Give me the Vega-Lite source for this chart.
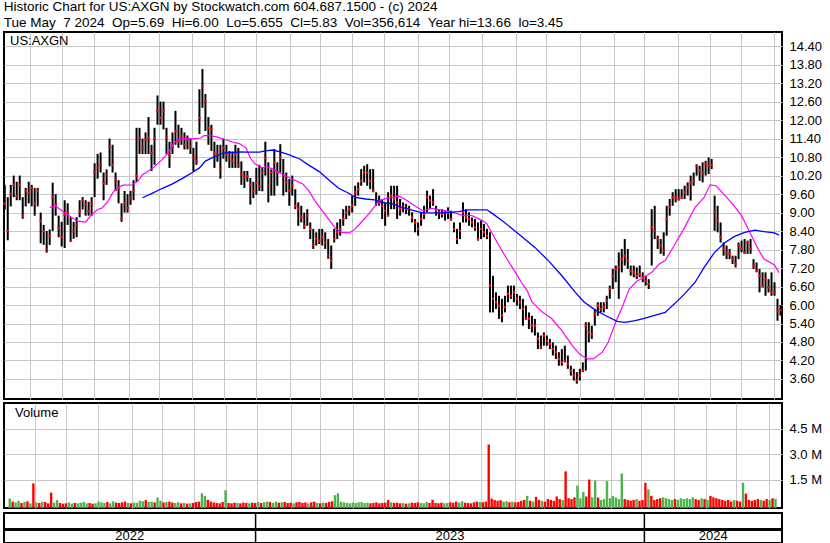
{
"$schema": "https://vega.github.io/schema/vega-lite/v6.json",
"padding": {"left": 1, "top": 0, "right": 0, "bottom": 0},
"background": "white",
"spacing": 2,
"title": {"text": "Historic Chart for US:AXGN by Stockwatch.com 604.687.1500 - (c) 2024", "subtitle": "Tue May \u00a07 2024 \u00a0Op=5.69 \u00a0Hi=6.00 \u00a0Lo=5.655 \u00a0Cl=5.83 \u00a0Vol=356,614 \u00a0Year hi=13.66 \u00a0lo=3.45", "anchor": "start", "font": "Liberation Sans", "fontSize": 13.5, "fontWeight": "normal", "color": "black", "subtitleFont": "Liberation Sans", "subtitleFontSize": 13.5, "subtitleColor": "black", "subtitlePadding": 2, "offset": 2, "dx": 2},
"datasets": {
"px": [
{"d":0,"h":9.9,"l":9.1,"c":9.29,"v":0.38},{"d":2,"h":9.5,"l":8.1,"c":8.4,"v":0.2},{"d":4,"h":9.9,"l":9.2,"c":9.6,"v":0.15},{"d":6,"h":10.2,"l":9.5,"c":9.9,"v":0.25},{"d":8,"h":10.0,"l":9.4,"c":9.53,"v":0.12},{"d":10,"h":10.2,"l":9.4,"c":9.9,"v":0.18},{"d":12,"h":9.5,"l":8.8,"c":8.9,"v":0.22},{"d":14,"h":9.8,"l":9.2,"c":9.7,"v":0.1},{"d":16,"h":10.0,"l":9.3,"c":9.64,"v":1.27},{"d":18,"h":9.9,"l":9.2,"c":9.8,"v":0.15},
{"d":20,"h":9.8,"l":8.9,"c":9.3,"v":0.12},{"d":22,"h":9.8,"l":9.2,"c":9.7,"v":0.2},{"d":24,"h":9.0,"l":8.0,"c":8.74,"v":0.18},{"d":26,"h":8.6,"l":7.95,"c":8.4,"v":0.1},{"d":28,"h":8.4,"l":7.7,"c":7.8,"v":0.73},{"d":30,"h":8.45,"l":7.95,"c":8.25,"v":0.14},{"d":32,"h":9.97,"l":8.4,"c":9.5,"v":0.29},{"d":34,"h":9.6,"l":8.9,"c":9.26,"v":0.12},{"d":36,"h":8.9,"l":8.2,"c":8.5,"v":0.08},{"d":38,"h":8.7,"l":7.9,"c":8.2,"v":0.1},
{"d":40,"h":9.4,"l":7.85,"c":8.93,"v":0.15},{"d":42,"h":9.3,"l":8.6,"c":9.0,"v":0.08},{"d":44,"h":8.85,"l":8.05,"c":8.1,"v":0.12},{"d":46,"h":8.7,"l":8.15,"c":8.4,"v":0.1},{"d":48,"h":8.85,"l":8.2,"c":8.6,"v":0.14},{"d":50,"h":9.4,"l":8.85,"c":9.05,"v":0.18},{"d":52,"h":9.5,"l":9.1,"c":9.4,"v":0.1},{"d":54,"h":9.4,"l":8.9,"c":9.26,"v":0.12},{"d":56,"h":9.35,"l":8.9,"c":9.05,"v":0.08},{"d":58,"h":9.5,"l":8.9,"c":9.3,"v":0.1},
{"d":60,"h":10.6,"l":9.5,"c":10.3,"v":0.2},{"d":62,"h":10.9,"l":10.1,"c":10.45,"v":0.16},{"d":64,"h":10.95,"l":10.3,"c":10.55,"v":0.12},{"d":66,"h":10.3,"l":9.4,"c":9.96,"v":0.18},{"d":68,"h":10.4,"l":9.9,"c":10.2,"v":0.1},{"d":70,"h":11.4,"l":10.5,"c":11.15,"v":0.22},{"d":72,"h":11.2,"l":10.3,"c":10.55,"v":0.14},{"d":74,"h":10.3,"l":9.7,"c":10.07,"v":0.12},{"d":76,"h":10.05,"l":9.3,"c":9.8,"v":0.16},{"d":78,"h":9.3,"l":8.7,"c":8.8,"v":0.2},
{"d":80,"h":9.7,"l":9.0,"c":9.3,"v":0.12},{"d":82,"h":9.6,"l":9.0,"c":9.15,"v":0.1},{"d":84,"h":9.7,"l":9.25,"c":9.47,"v":0.14},{"d":86,"h":10.05,"l":9.4,"c":9.7,"v":0.12},{"d":88,"h":11.75,"l":10.0,"c":10.2,"v":0.25},{"d":90,"h":11.75,"l":10.9,"c":11.42,"v":0.22},{"d":92,"h":11.4,"l":10.9,"c":11.1,"v":0.29},{"d":94,"h":11.6,"l":10.9,"c":11.37,"v":0.18},{"d":96,"h":12.1,"l":10.9,"c":11.42,"v":0.2},{"d":98,"h":11.2,"l":10.35,"c":10.93,"v":0.15},
{"d":100,"h":11.75,"l":10.55,"c":11.4,"v":0.44},{"d":102,"h":12.8,"l":11.85,"c":12.29,"v":0.25},{"d":104,"h":12.6,"l":11.85,"c":12.07,"v":0.15},{"d":106,"h":12.6,"l":11.7,"c":12.29,"v":0.18},{"d":108,"h":11.75,"l":10.9,"c":11.42,"v":0.2},{"d":110,"h":11.3,"l":10.45,"c":10.88,"v":0.15},{"d":112,"h":11.6,"l":10.9,"c":11.15,"v":0.12},{"d":114,"h":12.3,"l":11.2,"c":11.64,"v":0.16},{"d":116,"h":11.85,"l":11.1,"c":11.31,"v":0.1},{"d":118,"h":11.75,"l":11.2,"c":11.48,"v":0.12},
{"d":120,"h":11.6,"l":11.05,"c":11.2,"v":0.08},{"d":122,"h":11.5,"l":11.05,"c":11.37,"v":0.1},{"d":124,"h":11.42,"l":10.9,"c":11.15,"v":0.12},{"d":126,"h":11.1,"l":10.35,"c":10.77,"v":0.18},{"d":128,"h":11.3,"l":10.55,"c":10.66,"v":0.2},{"d":130,"h":13.0,"l":11.55,"c":12.07,"v":0.69},{"d":132,"h":13.66,"l":12.4,"c":13.1,"v":0.54},{"d":134,"h":12.85,"l":11.65,"c":12.6,"v":0.3},{"d":136,"h":12.1,"l":11.2,"c":11.75,"v":0.2},{"d":138,"h":11.85,"l":11.0,"c":11.7,"v":0.15},
{"d":140,"h":11.3,"l":10.45,"c":10.93,"v":0.12},{"d":142,"h":11.2,"l":10.65,"c":10.88,"v":0.1},{"d":144,"h":11.2,"l":10.1,"c":10.4,"v":0.18},{"d":146,"h":11.4,"l":10.75,"c":11.1,"v":0.87},{"d":148,"h":11.2,"l":10.65,"c":10.88,"v":0.12},{"d":150,"h":11.0,"l":10.45,"c":10.77,"v":0.1},{"d":152,"h":10.98,"l":10.45,"c":10.66,"v":0.14},{"d":154,"h":11.2,"l":10.45,"c":10.88,"v":0.12},{"d":156,"h":11.1,"l":10.45,"c":10.55,"v":0.1},{"d":158,"h":10.66,"l":9.9,"c":10.23,"v":0.15},
{"d":160,"h":10.35,"l":9.8,"c":10.18,"v":0.12},{"d":162,"h":10.35,"l":10.0,"c":10.18,"v":0.1},{"d":164,"h":10.12,"l":9.26,"c":9.91,"v":0.14},{"d":166,"h":10.0,"l":9.47,"c":9.69,"v":0.12},{"d":168,"h":10.45,"l":9.58,"c":9.96,"v":0.18},{"d":170,"h":10.55,"l":9.7,"c":9.85,"v":0.12},{"d":172,"h":10.45,"l":9.69,"c":10.3,"v":0.16},{"d":174,"h":11.3,"l":10.2,"c":10.77,"v":0.2},{"d":176,"h":10.63,"l":9.33,"c":9.87,"v":0.18},{"d":178,"h":10.4,"l":9.55,"c":10.3,"v":0.12},
{"d":180,"h":11.06,"l":9.55,"c":10.63,"v":0.2},{"d":182,"h":10.63,"l":9.87,"c":10.3,"v":0.14},{"d":184,"h":11.22,"l":10.3,"c":10.79,"v":0.16},{"d":186,"h":10.74,"l":9.55,"c":10.2,"v":0.18},{"d":188,"h":10.3,"l":9.66,"c":9.98,"v":0.12},{"d":190,"h":10.09,"l":9.22,"c":9.71,"v":0.14},{"d":192,"h":10.2,"l":9.55,"c":9.87,"v":0.1},{"d":194,"h":9.76,"l":9.11,"c":9.22,"v":0.16},{"d":196,"h":9.33,"l":8.57,"c":9.11,"v":0.18},{"d":198,"h":9.22,"l":8.68,"c":8.85,"v":0.12},
{"d":200,"h":9.0,"l":8.47,"c":8.57,"v":0.15},{"d":202,"h":9.11,"l":8.57,"c":8.9,"v":0.1},{"d":204,"h":8.68,"l":8.14,"c":8.47,"v":0.16},{"d":206,"h":8.47,"l":7.82,"c":7.93,"v":0.2},{"d":208,"h":8.36,"l":7.93,"c":8.14,"v":0.12},{"d":210,"h":8.47,"l":7.98,"c":8.09,"v":0.1},{"d":212,"h":8.47,"l":7.93,"c":8.2,"v":0.14},{"d":214,"h":8.36,"l":7.82,"c":8.03,"v":0.12},{"d":216,"h":8.14,"l":7.5,"c":7.6,"v":0.18},{"d":218,"h":7.93,"l":7.17,"c":7.44,"v":0.22},
{"d":220,"h":8.47,"l":8.03,"c":8.14,"v":0.58},{"d":222,"h":8.68,"l":8.14,"c":8.36,"v":0.69},{"d":224,"h":8.79,"l":8.25,"c":8.47,"v":0.2},{"d":226,"h":9.11,"l":8.57,"c":8.79,"v":0.16},{"d":228,"h":9.22,"l":8.79,"c":9.0,"v":0.12},{"d":230,"h":9.22,"l":8.9,"c":9.11,"v":0.1},{"d":232,"h":9.55,"l":9.0,"c":9.22,"v":0.14},{"d":234,"h":9.87,"l":9.22,"c":9.66,"v":0.12},{"d":236,"h":9.98,"l":9.55,"c":9.76,"v":0.16},{"d":238,"h":10.41,"l":9.87,"c":10.03,"v":0.18},
{"d":240,"h":10.52,"l":9.98,"c":10.3,"v":0.12},{"d":242,"h":10.57,"l":9.87,"c":10.3,"v":0.14},{"d":244,"h":10.41,"l":9.76,"c":10.03,"v":0.1},{"d":246,"h":10.41,"l":9.66,"c":9.71,"v":0.12},{"d":248,"h":9.66,"l":9.22,"c":9.39,"v":0.16},{"d":250,"h":9.55,"l":9.22,"c":9.33,"v":0.1},{"d":252,"h":9.44,"l":8.79,"c":9.22,"v":0.12},{"d":254,"h":9.33,"l":8.57,"c":9.06,"v":0.14},{"d":256,"h":9.66,"l":8.9,"c":8.9,"v":0.29},{"d":258,"h":9.87,"l":9.11,"c":9.55,"v":0.16},
{"d":260,"h":9.87,"l":9.11,"c":9.44,"v":0.12},{"d":262,"h":9.87,"l":8.79,"c":9.33,"v":0.14},{"d":264,"h":9.44,"l":8.9,"c":9.11,"v":0.1},{"d":266,"h":9.33,"l":9.01,"c":9.17,"v":0.12},{"d":268,"h":9.28,"l":8.95,"c":9.11,"v":0.08},{"d":270,"h":9.22,"l":8.9,"c":9.11,"v":0.1},{"d":272,"h":9.01,"l":8.68,"c":8.84,"v":0.14},{"d":274,"h":8.79,"l":8.36,"c":8.68,"v":0.12},{"d":276,"h":8.68,"l":8.25,"c":8.47,"v":0.16},{"d":278,"h":9.01,"l":8.57,"c":8.79,"v":0.12},
{"d":280,"h":9.22,"l":8.79,"c":8.95,"v":0.1},{"d":282,"h":9.71,"l":9.01,"c":9.49,"v":0.18},{"d":284,"h":9.55,"l":9.11,"c":9.39,"v":0.12},{"d":286,"h":9.76,"l":9.22,"c":9.33,"v":0.31},{"d":288,"h":9.22,"l":8.9,"c":9.06,"v":0.12},{"d":290,"h":9.11,"l":8.79,"c":9.01,"v":0.1},{"d":292,"h":9.11,"l":8.84,"c":8.95,"v":0.14},{"d":294,"h":9.06,"l":8.74,"c":9.01,"v":0.1},{"d":296,"h":9.17,"l":8.79,"c":9.01,"v":0.12},{"d":298,"h":9.06,"l":8.74,"c":8.79,"v":0.16},
{"d":300,"h":8.68,"l":8.36,"c":8.47,"v":0.14},{"d":302,"h":8.47,"l":7.98,"c":8.14,"v":0.2},{"d":304,"h":8.68,"l":8.14,"c":8.41,"v":0.14},{"d":306,"h":9.33,"l":8.68,"c":9.01,"v":0.22},{"d":308,"h":9.11,"l":8.68,"c":8.84,"v":0.14},{"d":310,"h":9.01,"l":8.57,"c":8.79,"v":0.12},{"d":312,"h":8.84,"l":8.52,"c":8.68,"v":0.1},{"d":314,"h":8.79,"l":8.41,"c":8.52,"v":0.16},{"d":316,"h":8.68,"l":8.09,"c":8.14,"v":0.2},{"d":318,"h":8.74,"l":8.14,"c":8.47,"v":0.18},
{"d":320,"h":8.63,"l":8.2,"c":8.36,"v":0.16},{"d":322,"h":8.47,"l":8.14,"c":8.25,"v":0.2},{"d":324,"h":8.36,"l":5.76,"c":6.63,"v":3.56},{"d":326,"h":6.95,"l":5.76,"c":6.2,"v":0.38},{"d":328,"h":6.41,"l":5.87,"c":6.09,"v":0.3},{"d":330,"h":6.3,"l":5.55,"c":5.98,"v":0.25},{"d":332,"h":6.2,"l":5.44,"c":5.66,"v":0.28},{"d":334,"h":6.3,"l":5.76,"c":5.93,"v":0.2},{"d":336,"h":6.63,"l":6.09,"c":6.36,"v":0.22},{"d":338,"h":6.63,"l":6.2,"c":6.3,"v":0.16},
{"d":340,"h":6.63,"l":6.09,"c":6.41,"v":0.2},{"d":342,"h":6.36,"l":5.98,"c":6.2,"v":0.15},{"d":344,"h":6.3,"l":5.87,"c":6.09,"v":0.18},{"d":346,"h":6.2,"l":5.33,"c":5.87,"v":0.25},{"d":348,"h":5.98,"l":5.55,"c":5.55,"v":0.3},{"d":350,"h":5.76,"l":5.22,"c":5.55,"v":0.54},{"d":352,"h":5.65,"l":5.11,"c":5.33,"v":0.25},{"d":354,"h":5.55,"l":5.01,"c":5.33,"v":0.2},{"d":356,"h":5.11,"l":4.57,"c":4.9,"v":0.48},{"d":358,"h":5.01,"l":4.57,"c":4.63,"v":0.3},
{"d":360,"h":5.11,"l":4.68,"c":5.01,"v":0.25},{"d":362,"h":5.01,"l":4.68,"c":4.84,"v":0.2},{"d":364,"h":4.9,"l":4.57,"c":4.74,"v":0.35},{"d":366,"h":4.79,"l":4.36,"c":4.57,"v":0.3},{"d":368,"h":4.68,"l":4.25,"c":4.47,"v":0.25},{"d":370,"h":4.47,"l":4.03,"c":4.25,"v":0.5},{"d":372,"h":4.57,"l":4.03,"c":4.14,"v":0.35},{"d":374,"h":4.68,"l":4.14,"c":4.2,"v":0.3},{"d":376,"h":4.36,"l":3.93,"c":4.09,"v":1.98},{"d":378,"h":4.03,"l":3.71,"c":3.87,"v":0.4},
{"d":380,"h":3.93,"l":3.55,"c":3.71,"v":0.35},{"d":382,"h":3.82,"l":3.45,"c":3.55,"v":0.45},{"d":384,"h":3.93,"l":3.55,"c":3.71,"v":1.15},{"d":386,"h":4.14,"l":3.82,"c":3.87,"v":0.4},{"d":388,"h":5.44,"l":3.87,"c":5.33,"v":0.77},{"d":390,"h":5.44,"l":4.79,"c":5.11,"v":0.5},{"d":392,"h":5.33,"l":4.9,"c":5.06,"v":1.5},{"d":394,"h":5.87,"l":5.33,"c":5.71,"v":0.45},{"d":396,"h":6.09,"l":5.65,"c":5.98,"v":1.44},{"d":398,"h":6.09,"l":5.76,"c":5.87,"v":0.44},
{"d":400,"h":6.09,"l":5.76,"c":5.93,"v":0.3},{"d":402,"h":6.3,"l":5.87,"c":6.14,"v":0.35},{"d":404,"h":6.63,"l":6.2,"c":6.52,"v":1.4},{"d":406,"h":7.17,"l":6.52,"c":6.95,"v":0.4},{"d":408,"h":7.28,"l":6.74,"c":7.17,"v":0.54},{"d":410,"h":7.71,"l":6.2,"c":7.22,"v":0.45},{"d":412,"h":7.82,"l":7.06,"c":7.49,"v":0.35},{"d":414,"h":8.14,"l":7.28,"c":7.6,"v":1.85},{"d":416,"h":7.82,"l":7.17,"c":7.44,"v":0.35},{"d":418,"h":7.28,"l":6.95,"c":7.11,"v":0.3},
{"d":420,"h":7.28,"l":6.9,"c":7.06,"v":0.25},{"d":422,"h":7.22,"l":6.84,"c":6.95,"v":0.3},{"d":424,"h":7.28,"l":6.9,"c":7.0,"v":0.35},{"d":426,"h":7.06,"l":6.74,"c":6.9,"v":0.25},{"d":428,"h":6.95,"l":6.63,"c":6.79,"v":0.3},{"d":430,"h":6.84,"l":6.52,"c":6.68,"v":1.31},{"d":432,"h":9.11,"l":7.28,"c":8.52,"v":0.92},{"d":434,"h":9.22,"l":8.14,"c":8.41,"v":0.54},{"d":436,"h":8.25,"l":7.82,"c":8.14,"v":0.3},{"d":438,"h":8.14,"l":7.66,"c":7.93,"v":0.35},
{"d":440,"h":8.36,"l":7.6,"c":7.76,"v":0.4},{"d":442,"h":9.22,"l":8.25,"c":8.79,"v":0.45},{"d":444,"h":9.44,"l":8.9,"c":9.17,"v":0.4},{"d":446,"h":9.66,"l":9.22,"c":9.49,"v":0.35},{"d":448,"h":9.76,"l":9.33,"c":9.49,"v":0.3},{"d":450,"h":9.76,"l":9.39,"c":9.44,"v":0.35},{"d":452,"h":9.76,"l":9.44,"c":9.49,"v":0.3},{"d":454,"h":9.87,"l":9.44,"c":9.66,"v":0.4},{"d":456,"h":9.98,"l":9.55,"c":9.82,"v":0.35},{"d":458,"h":10.2,"l":9.39,"c":9.98,"v":0.4},
{"d":460,"h":10.3,"l":9.87,"c":10.03,"v":0.35},{"d":462,"h":10.57,"l":10.2,"c":10.52,"v":0.45},{"d":464,"h":10.52,"l":10.03,"c":10.36,"v":0.35},{"d":466,"h":10.63,"l":9.98,"c":10.3,"v":0.3},{"d":468,"h":10.68,"l":10.2,"c":10.57,"v":0.4},{"d":470,"h":10.79,"l":10.25,"c":10.52,"v":0.35},{"d":472,"h":10.74,"l":10.41,"c":10.54,"v":0.3},{"d":474,"h":9.55,"l":8.41,"c":9.01,"v":0.54},{"d":476,"h":9.22,"l":8.36,"c":8.74,"v":0.45},{"d":478,"h":8.68,"l":8.03,"c":8.2,"v":0.4},
{"d":480,"h":8.03,"l":7.6,"c":7.82,"v":0.35},{"d":482,"h":7.93,"l":7.49,"c":7.71,"v":0.3},{"d":484,"h":7.82,"l":7.49,"c":7.66,"v":0.25},{"d":486,"h":7.6,"l":7.33,"c":7.49,"v":0.3},{"d":488,"h":7.6,"l":7.22,"c":7.33,"v":0.2},{"d":490,"h":8.03,"l":7.49,"c":7.93,"v":0.3},{"d":492,"h":8.09,"l":7.71,"c":7.82,"v":0.25},{"d":494,"h":8.14,"l":7.66,"c":7.71,"v":0.2},{"d":496,"h":8.09,"l":7.66,"c":8.03,"v":1.31},{"d":498,"h":8.14,"l":7.66,"c":7.82,"v":0.67},
{"d":500,"h":7.49,"l":7.17,"c":7.28,"v":0.3},{"d":502,"h":7.38,"l":7.06,"c":7.11,"v":0.25},{"d":504,"h":7.17,"l":6.41,"c":6.95,"v":0.3},{"d":506,"h":7.06,"l":6.57,"c":6.63,"v":0.35},{"d":508,"h":7.06,"l":6.3,"c":6.84,"v":0.3},{"d":510,"h":6.84,"l":6.41,"c":6.57,"v":0.25},{"d":512,"h":7.06,"l":6.3,"c":6.41,"v":0.35},{"d":514,"h":6.74,"l":6.3,"c":6.41,"v":0.3},{"d":516,"h":6.2,"l":5.49,"c":5.82,"v":0.4},{"d":518,"h":6.0,"l":5.655,"c":5.83,"v":0.36}
],
"ma1": [
{"d":30,"m":9.17},{"d":34,"m":9.21},{"d":37,"m":9.1},{"d":41,"m":8.96},{"d":45,"m":8.83},{"d":49,"m":8.72},{"d":54,"m":8.69},{"d":57,"m":8.88},{"d":62,"m":9.1},{"d":65,"m":9.15},{"d":69,"m":9.37},{"d":72,"m":9.64},{"d":75,"m":9.8},{"d":79,"m":9.89},{"d":85,"m":9.9},{"d":89,"m":10.02},{"d":92,"m":10.23},{"d":99,"m":10.45},{"d":105,"m":10.72},{"d":109,"m":10.93},{"d":113,"m":11.26},{"d":117,"m":11.4},{"d":125,"m":11.39},{"d":131,"m":11.42},{"d":133,"m":11.5},{"d":137,"m":11.5},{"d":142,"m":11.45},{"d":147,"m":11.37},{"d":152,"m":11.29},{"d":157,"m":11.23},{"d":161,"m":11.1},{"d":164,"m":10.77},{"d":167,"m":10.58},{"d":172,"m":10.45},{"d":175,"m":10.5},{"d":179,"m":10.41},{"d":185,"m":10.25},{"d":192,"m":10.09},{"d":199,"m":9.93},{"d":203,"m":9.71},{"d":207,"m":9.39},{"d":212,"m":9.06},{"d":217,"m":8.74},{"d":221,"m":8.47},{"d":225,"m":8.36},{"d":230,"m":8.34},{"d":233,"m":8.43},{"d":237,"m":8.63},{"d":243,"m":8.95},{"d":250,"m":9.39},{"d":255,"m":9.46},{"d":259,"m":9.49},{"d":263,"m":9.53},{"d":267,"m":9.44},{"d":272,"m":9.28},{"d":279,"m":9.06},{"d":285,"m":9.14},{"d":292,"m":9.08},{"d":299,"m":9.01},{"d":305,"m":8.92},{"d":312,"m":8.9},{"d":319,"m":8.74},{"d":322,"m":8.63},{"d":325,"m":8.36},{"d":330,"m":7.93},{"d":334,"m":7.6},{"d":341,"m":7.06},{"d":345,"m":6.74},{"d":349,"m":6.45},{"d":352,"m":6.1},{"d":359,"m":5.77},{"d":365,"m":5.57},{"d":372,"m":5.17},{"d":379,"m":4.68},{"d":384,"m":4.4},{"d":389,"m":4.25},{"d":393,"m":4.25},{"d":399,"m":4.47},{"d":403,"m":4.79},{"d":407,"m":5.33},{"d":412,"m":5.9},{"d":417,"m":6.52},{"d":422,"m":6.77},{"d":427,"m":6.9},{"d":432,"m":7.06},{"d":437,"m":7.33},{"d":441,"m":7.44},{"d":447,"m":7.93},{"d":454,"m":8.52},{"d":461,"m":9.17},{"d":467,"m":9.49},{"d":471,"m":9.9},{"d":475,"m":9.87},{"d":481,"m":9.55},{"d":487,"m":9.22},{"d":492,"m":8.9},{"d":497,"m":8.41},{"d":503,"m":7.82},{"d":507,"m":7.49},{"d":514,"m":7.3},{"d":517,"m":7.05}
],
"ma2": [
{"d":92,"m":9.48},{"d":99,"m":9.64},{"d":105,"m":9.78},{"d":112,"m":9.93},{"d":119,"m":10.12},{"d":125,"m":10.29},{"d":130,"m":10.45},{"d":134,"m":10.67},{"d":139,"m":10.79},{"d":143,"m":10.88},{"d":147,"m":10.94},{"d":157,"m":10.97},{"d":163,"m":10.96},{"d":170,"m":10.96},{"d":174,"m":11.0},{"d":179,"m":11.03},{"d":184,"m":10.97},{"d":190,"m":10.87},{"d":197,"m":10.74},{"d":203,"m":10.54},{"d":210,"m":10.33},{"d":217,"m":10.03},{"d":223,"m":9.79},{"d":230,"m":9.62},{"d":234,"m":9.49},{"d":241,"m":9.44},{"d":247,"m":9.41},{"d":254,"m":9.31},{"d":259,"m":9.28},{"d":265,"m":9.17},{"d":272,"m":9.08},{"d":279,"m":8.99},{"d":292,"m":8.99},{"d":303,"m":9.03},{"d":310,"m":9.09},{"d":322,"m":9.09},{"d":325,"m":8.99},{"d":332,"m":8.74},{"d":339,"m":8.47},{"d":345,"m":8.23},{"d":354,"m":7.87},{"d":363,"m":7.44},{"d":372,"m":6.95},{"d":381,"m":6.41},{"d":387,"m":6.09},{"d":394,"m":5.85},{"d":401,"m":5.66},{"d":409,"m":5.47},{"d":414,"m":5.44},{"d":421,"m":5.49},{"d":427,"m":5.57},{"d":435,"m":5.68},{"d":441,"m":5.76},{"d":447,"m":6.03},{"d":454,"m":6.36},{"d":461,"m":6.74},{"d":467,"m":7.22},{"d":474,"m":7.71},{"d":481,"m":8.03},{"d":487,"m":8.22},{"d":494,"m":8.36},{"d":501,"m":8.43},{"d":507,"m":8.38},{"d":514,"m":8.34},{"d":517,"m":8.27}
],
"yrs": [{"yr":"2022","s":-0.5,"e":167.5},{"yr":"2023","s":167.5,"e":427.1},{"yr":"2024","s":427.1,"e":519}]
},
"vconcat": [
{
"width": 778, "height": 367,
"layer": [
{"data": {"name": "px"}, "mark": {"type": "rule", "strokeWidth": 2, "color": "black"},
 "encoding": {
  "x": {"field": "d", "type": "quantitative", "scale": {"domain": [-0.5, 519], "nice": false, "zero": false}, "axis": {"values": [17,38.2,59.5,82.7,102.7,124.9,146.5,167.5,190.2,210.2,232,253.1,276,296.9,318.7,341.5,361.5,384.2,406.5,427.1,449.3,470.9,491.5,513.8], "tickCount": 60, "labels": false, "grid": true, "ticks": false, "domain": false, "title": null}},
  "y": {"field": "l", "type": "quantitative", "scale": {"domain": [2.95, 14.86], "nice": false, "zero": false}, "axis": {"orient": "right", "values": [3.6,4.2,4.8,5.4,6.0,6.6,7.2,7.8,8.4,9.0,9.6,10.2,10.8,11.4,12.0,12.6,13.2,13.8,14.4], "tickCount": 40, "format": ".2f", "grid": true, "labelOverlap": false, "labelPadding": 7, "title": null}},
  "y2": {"field": "h"}}},
{"data": {"name": "px"}, "mark": {"type": "point", "shape": "square", "size": 5, "filled": true, "color": "#ff0000", "opacity": 1},
 "encoding": {"x": {"field": "d", "type": "quantitative"}, "y": {"field": "c", "type": "quantitative"}}},
{"data": {"name": "ma1"}, "mark": {"type": "line", "color": "#ff00ff", "strokeWidth": 1.2},
 "encoding": {"x": {"field": "d", "type": "quantitative"}, "y": {"field": "m", "type": "quantitative"}}},
{"data": {"name": "ma2"}, "mark": {"type": "line", "color": "#0000ff", "strokeWidth": 1.3},
 "encoding": {"x": {"field": "d", "type": "quantitative"}, "y": {"field": "m", "type": "quantitative"}}},
{"data": {"values": [{}]}, "mark": {"type": "text", "align": "left", "baseline": "top", "dx": 6, "dy": 3, "fontSize": 13, "font": "Liberation Sans", "color": "black"},
 "encoding": {"x": {"datum": -0.5}, "y": {"datum": 14.86}, "text": {"value": "US:AXGN"}}}
]
},
{
"width": 778, "height": 105,
"layer": [
{"data": {"name": "px"},
 "transform": [{"window": [{"op": "lag", "field": "c", "as": "pc"}], "sort": [{"field": "d"}]}, {"calculate": "datum.pc == null || datum.c >= datum.pc ? 'up' : 'down'", "as": "dir"}],
 "mark": {"type": "bar", "size": 2.4},
 "encoding": {
  "x": {"field": "d", "type": "quantitative", "scale": {"domain": [-0.5, 519], "nice": false, "zero": false}, "axis": {"values": [17,38.2,59.5,82.7,102.7,124.9,146.5,167.5,190.2,210.2,232,253.1,276,296.9,318.7,341.5,361.5,384.2,406.5,427.1,449.3,470.9,491.5,513.8], "tickCount": 60, "labels": false, "grid": true, "ticks": false, "domain": false, "title": null}},
  "y": {"field": "v", "type": "quantitative", "scale": {"domain": [-0.175, 6.0], "nice": false, "zero": false}, "axis": {"orient": "right", "values": [1.5, 3, 4.5], "tickCount": 10, "labelExpr": "format(datum.value, '.1f') + ' M'", "grid": true, "labelPadding": 7, "title": null}},
  "y2": {"datum": -0.175},
  "color": {"field": "dir", "type": "nominal", "scale": {"domain": ["up", "down"], "range": ["#4db34d", "#ff0000"]}, "legend": null}}},
{"data": {"values": [{}]}, "mark": {"type": "text", "align": "left", "baseline": "top", "dx": 6, "dy": 4, "fontSize": 13, "font": "Liberation Sans", "color": "black"},
 "encoding": {"x": {"datum": -0.5}, "y": {"datum": 6.0}, "text": {"value": "Volume"}}}
]
},
{
"width": 778, "height": 30,
"data": {"name": "yrs"},
"transform": [{"calculate": "(datum.s + datum.e) / 2", "as": "mid"}],
"layer": [
{"mark": {"type": "rule", "color": "black", "strokeWidth": 1.5},
 "transform": [{"filter": "datum.s > 0"}],
 "encoding": {
  "x": {"field": "s", "type": "quantitative", "scale": {"domain": [-0.5, 519], "nice": false, "zero": false}, "axis": null},
  "y": {"datum": 0, "type": "quantitative", "scale": {"domain": [0, 30], "nice": false, "zero": false}, "axis": null},
  "y2": {"datum": 30}}},
{"mark": {"type": "rule", "color": "black", "strokeWidth": 2.5},
 "encoding": {"y": {"datum": 13.5, "type": "quantitative"}}},
{"mark": {"type": "text", "fontSize": 13, "font": "Liberation Sans", "baseline": "middle", "align": "center", "color": "black"},
 "encoding": {"x": {"field": "mid", "type": "quantitative"}, "y": {"datum": 7, "type": "quantitative"}, "text": {"field": "yr"}}}
]
}
],
"config": {
 "view": {"stroke": "black", "strokeWidth": 2},
 "font": "Liberation Sans",
 "axis": {"labelFont": "Liberation Sans", "labelFontSize": 13, "labelColor": "black", "gridColor": "#c8c8c8", "gridOpacity": 1, "gridWidth": 1, "domain": false, "ticks": false, "title": null, "labelOverlap": false}
}
}
